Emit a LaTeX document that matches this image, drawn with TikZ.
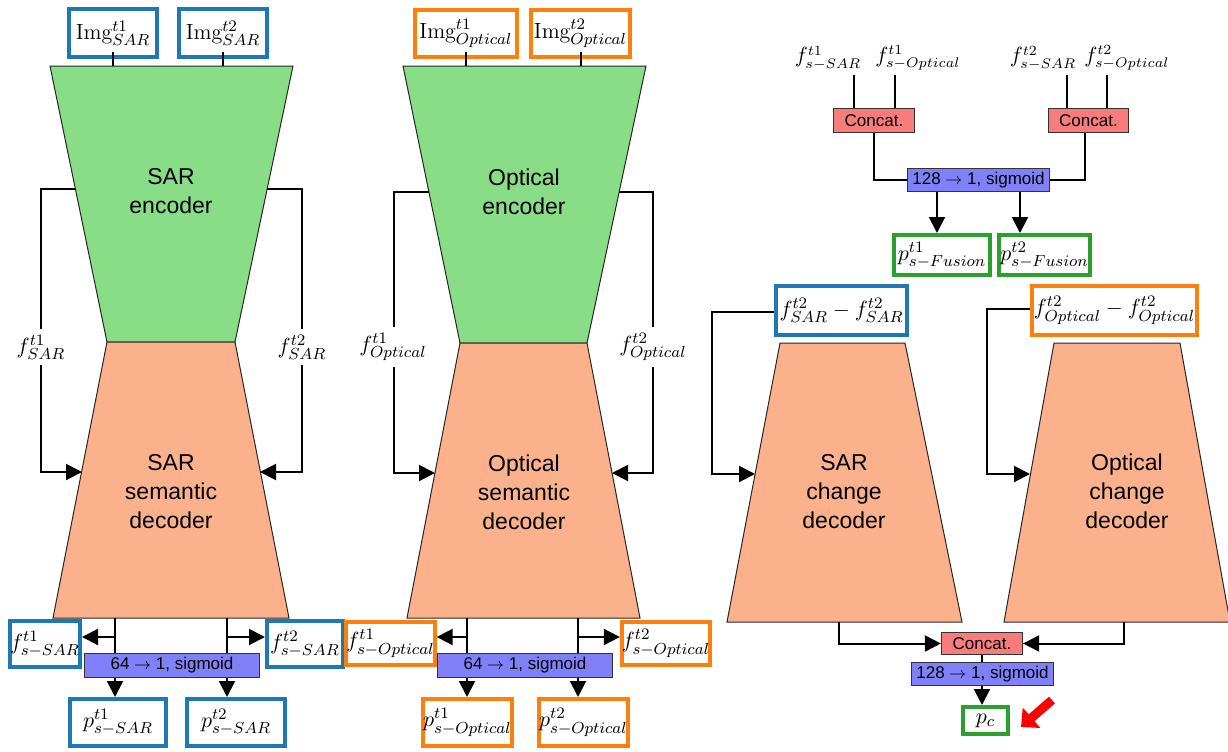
\documentclass[tikz,border=0pt]{standalone}
\usepackage{fontspec}
\setsansfont{Liberation Sans}
\usetikzlibrary{arrows.meta,calc}

\definecolor{sarblue}{RGB}{31,119,180}
\definecolor{optorange}{RGB}{255,127,14}
\definecolor{fusgreen}{RGB}{44,160,44}
\definecolor{encgreen}{RGB}{137,221,135}
\definecolor{decpeach}{RGB}{251,178,140}
\definecolor{catred}{RGB}{248,124,124}
\definecolor{fcblue}{RGB}{128,128,248}

\pgfdeclarelayer{shapes}
\pgfdeclarelayer{wires}
\pgfsetlayers{shapes,wires,main}

\tikzset{
  wire/.style={line width=1pt, black},
  arr/.style={wire, -{Triangle[length=8pt,width=8pt]}},
  thickbox/.style={draw, line width=2pt, fill=white, inner sep=0pt,
    font=\fontsize{11}{13}\selectfont},
  sarbox/.style={thickbox, draw=sarblue},
  optbox/.style={thickbox, draw=optorange},
  fusbox/.style={thickbox, draw=fusgreen},
  opbox/.style={draw=black!80, line width=0.6pt, inner sep=0pt,
    font=\sffamily\fontsize{8.5}{10}\selectfont},
  catbox/.style={opbox, fill=catred},
  fcbox/.style={opbox, fill=fcblue},
  block/.style={draw=black!85, line width=0.5pt},
  blocklabel/.style={align=center, inner sep=0pt,
    font=\sffamily\fontsize{11.5}{14.5}\selectfont},
  mathlabel/.style={font=\fontsize{10.5}{12}\selectfont, inner sep=1pt},
  skiplabel/.style={mathlabel, font=\fontsize{11}{13}\selectfont, fill=white, inner ysep=3pt},
}

% box given by its outer corners (x1,y1)-(x2,y2) in pixel units
\def\pxinset{4}
\newcommand\pxnode[7]{%
  \pgfmathsetmacro\pxcx{(#3+#5)/2}%
  \pgfmathsetmacro\pxcy{(#4+#6)/2}%
  \pgfmathsetmacro\pxw{(#5-#3-\pxinset)/2}%
  \pgfmathsetmacro\pxh{(#6-#4-\pxinset)/2}%
  \node[#1, minimum width=\pxw pt, minimum height=\pxh pt] (#2) at (\pxcx,\pxcy) {#7};}

\begin{document}
\begin{tikzpicture}[x=0.5pt,y=-0.5pt]
\useasboundingbox (0,0) rectangle (1228,751);

% ---------------- encoder / decoder blocks ----------------
\begin{pgfonlayer}{shapes}
  \filldraw[block, fill=encgreen] (50,66) -- (293,66) -- (235,342) -- (107,342) -- cycle;
  \filldraw[block, fill=decpeach] (107,342) -- (235,342) -- (289,618) -- (53,618) -- cycle;
  \filldraw[block, fill=encgreen] (403,66) -- (646,66) -- (587,343) -- (460,343) -- cycle;
  \filldraw[block, fill=decpeach] (460,343) -- (587,343) -- (640,618) -- (407,618) -- cycle;
  \filldraw[block, fill=decpeach] (780,343) -- (905,343) -- (962,622) -- (727,622) -- cycle;
  \filldraw[block, fill=decpeach] (1054,343) -- (1180,343) -- (1230,622) -- (1004,622) -- cycle;
\end{pgfonlayer}

\node[blocklabel] (encS) at (171,191) {SAR\\encoder};
\node[blocklabel] (decS) at (171,492) {SAR\\semantic\\decoder};
\node[blocklabel] (encO) at (524,192) {Optical\\encoder};
\node[blocklabel] (decO) at (524,492) {Optical\\semantic\\decoder};
\node[blocklabel] (chgS) at (844,492) {SAR\\change\\decoder};
\node[blocklabel] (chgO) at (1127,491) {Optical\\change\\decoder};

% points on the block outlines where skip connections attach
\coordinate (encSl) at (75,189);   \coordinate (encSr) at (267,189);
\coordinate (decSl) at (82,472);   \coordinate (decSr) at (260,472);
\coordinate (encOl) at (429,192);  \coordinate (encOr) at (619,192);
\coordinate (decOl) at (435,473);  \coordinate (decOr) at (612,473);
\coordinate (chgSl) at (755,474);  \coordinate (chgOl) at (1030,474);
\coordinate (decSb1) at (115,618); \coordinate (decSb2) at (227,618);
\coordinate (decOb1) at (467,618); \coordinate (decOb2) at (578,618);
\coordinate (chgSb) at (839,622);  \coordinate (chgOb) at (1124,622);

% ---------------- framed inputs and outputs ----------------
\def\pxinset{4}
\pxnode{sarbox}{imgS1}{67}{7}{159}{59}{$\mathrm{Img}^{t1}_{SAR}$}
\pxnode{sarbox}{imgS2}{177}{7}{269}{59}{$\mathrm{Img}^{t2}_{SAR}$}
\pxnode{sarbox}{fsS1}{8}{619}{82}{669}{$f^{t1}_{s-SAR}$}
\pxnode{sarbox}{fsS2}{265}{619}{345}{669}{$f^{t2}_{s-SAR}$}
\pxnode{sarbox}{psS1}{68}{697}{168}{748}{$p^{t1}_{s-SAR}$}
\pxnode{sarbox}{psS2}{185}{697}{287}{748}{$p^{t2}_{s-SAR}$}
\pxnode{sarbox}{dS}{774}{284}{909}{337}{$f^{t2}_{SAR}-f^{t2}_{SAR}$}

\pxnode{optbox}{imgO1}{413}{8}{519}{59}{$\mathrm{Img}^{t1}_{Optical}$}
\pxnode{optbox}{imgO2}{529}{8}{632}{59}{$\mathrm{Img}^{t2}_{Optical}$}
\pxnode{optbox}{fsO1}{348}{620}{433}{667}{$f^{t1}_{s-Optical}$}
\pxnode{optbox}{fsO2}{620}{620}{712}{667}{$f^{t2}_{s-Optical}$}
\pxnode{optbox}{poO1}{422}{697}{513}{748}{$p^{t1}_{s-Optical}$}
\pxnode{optbox}{poO2}{537}{697}{630}{748}{$p^{t2}_{s-Optical}$}
\pxnode{optbox}{dO}{1030}{284}{1199}{337}{$f^{t2}_{Optical}-f^{t2}_{Optical}$}

\pxnode{fusbox}{pf1}{892}{233}{992}{277}{$p^{t1}_{s-Fusion}$}
\pxnode{fusbox}{pf2}{997}{233}{1092}{277}{$p^{t2}_{s-Fusion}$}
\pxnode{fusbox}{pc}{961}{705}{1010}{736}{$p_c$}

% ---------------- operation boxes ----------------
\def\pxinset{1}
\pxnode{catbox}{cat1}{833}{108}{915}{133}{Concat.}
\pxnode{catbox}{cat2}{1048}{108}{1129}{133}{Concat.}
\pxnode{catbox}{catC}{941}{632}{1023}{655}{Concat.}
\pxnode{fcbox}{barS}{84}{653}{260}{678}{64 $\rightarrow$ 1, sigmoid}
\pxnode{fcbox}{barO}{437}{653}{613}{678}{64 $\rightarrow$ 1, sigmoid}
\pxnode{fcbox}{barF}{907}{168}{1050}{192}{128 $\rightarrow$ 1, sigmoid}
\pxnode{fcbox}{barC}{911}{662}{1054}{686}{128 $\rightarrow$ 1, sigmoid}

% fusion inputs
\node[mathlabel] (inS1) at (828,58) {$f^{t1}_{s-SAR}$};
\node[mathlabel] (inO1) at (918,58) {$f^{t1}_{s-Optical}$};
\node[mathlabel] (inS2) at (1043,58) {$f^{t2}_{s-SAR}$};
\node[mathlabel] (inO2) at (1127,58) {$f^{t2}_{s-Optical}$};

% ---------------- connectors ----------------
\begin{pgfonlayer}{wires}
  % skip connections
  \draw[arr] (encSl) -- (41,189) -- (41,472) -- (decSl);
  \draw[arr] (encSr) -- (302,189) -- (302,472) -- (decSr);
  \draw[arr] (encOl) -- (394,192) -- (394,473) -- (decOl);
  \draw[arr] (encOr) -- (653,192) -- (653,473) -- (decOr);
  \draw[arr] (dS.west |- 0,312) -- (712,312) -- (712,474) -- (chgSl);
  \draw[arr] (dO.west |- 0,309) -- (987,309) -- (987,474) -- (chgOl);

  % semantic heads
  \draw[arr] (decSb1) -- (115,0 |- psS1.north);
  \draw[arr] (decSb2) -- (227,0 |- psS2.north);
  \draw[arr] (115,637) -- (fsS1.east |- 0,637);
  \draw[arr] (227,637) -- (fsS2.west |- 0,637);
  \draw[arr] (decOb1) -- (467,0 |- poO1.north);
  \draw[arr] (decOb2) -- (578,0 |- poO2.north);
  \draw[arr] (467,637) -- (fsO1.east |- 0,637);
  \draw[arr] (578,637) -- (fsO2.west |- 0,637);

  % fusion head
  \draw[wire] (854,75) -- (854,0 |- cat1.north);
  \draw[wire] (895,75) -- (895,0 |- cat1.north);
  \draw[wire] (1067,75) -- (1067,0 |- cat2.north);
  \draw[wire] (1107,75) -- (1107,0 |- cat2.north);
  \draw[wire] (cat1.south) |- (barF.west);
  \draw[wire] (1085,0 |- cat2.south) |- (barF.east);
  \draw[arr] (937,0 |- barF.south) -- (937,0 |- pf1.north);
  \draw[arr] (1020,0 |- barF.south) -- (1020,0 |- pf2.north);

  % change head
  \draw[arr] (chgSb) |- (catC.west);
  \draw[arr] (chgOb) |- (catC.east);
  \draw[arr] (catC.south) -- (catC.south |- pc.north);
\end{pgfonlayer}

% skip labels sit on top of their lines
\node[skiplabel] (skS1) at (41,347) {$f^{t1}_{SAR}$};
\node[skiplabel] (skS2) at (302,347) {$f^{t2}_{SAR}$};
\node[skiplabel] (skO1) at (393,347) {$f^{t1}_{Optical}$};
\node[skiplabel] (skO2) at (653,347) {$f^{t2}_{Optical}$};

% input stubs into the encoders
\draw[wire] ([yshift=3.5pt]imgS1.south) -- (imgS1.south |- 0,66);
\draw[wire] ([yshift=3.5pt]imgS2.south) -- (imgS2.south |- 0,66);
\draw[wire] ([yshift=3.5pt]imgO1.south) -- (imgO1.south |- 0,66);
\draw[wire] ([yshift=3.5pt]imgO2.south) -- (imgO2.south |- 0,66);

% highlight of the final change map
\coordinate (hlTail) at (1052,700);
\coordinate (hlTip) at (1021,727);
\draw[red, line width=4.5pt, -{Triangle[length=7pt,width=13pt]}] (hlTail) -- (hlTip);

\end{tikzpicture}
\end{document}
